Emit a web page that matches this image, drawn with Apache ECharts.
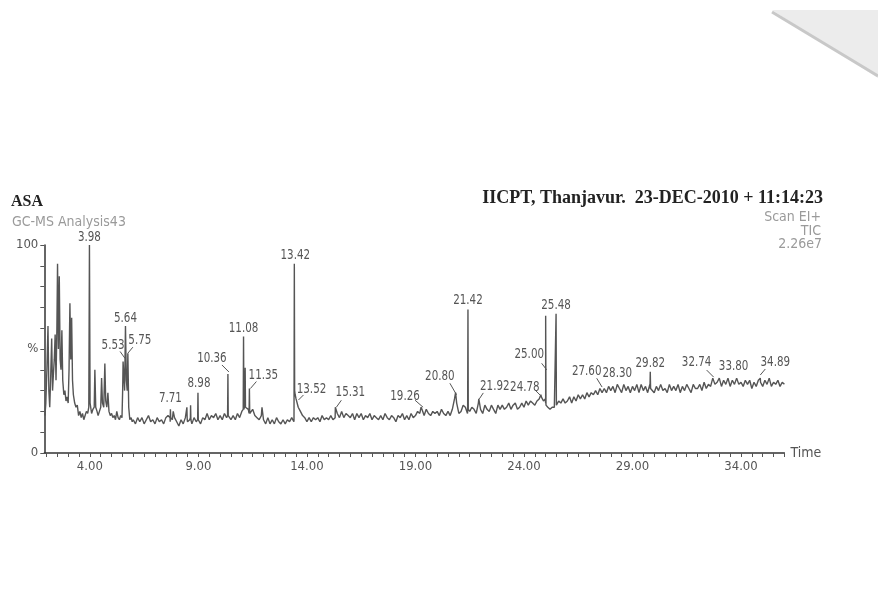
<!DOCTYPE html>
<html><head><meta charset="utf-8">
<script src="https://cdn.jsdelivr.net/npm/echarts@6/dist/echarts.min.js"></script>
<style>html,body{margin:0;padding:0;background:#fff}#c{width:878px;height:590px}</style>
</head><body><div id="c"></div>
<script>
// ---- DATA ----
// Busy early part of the TIC trace: [time (min), relative abundance %]
const earlyTrace = [
 [1.93,18],[1.97,24],[2.02,40],[2.07,61],[2.11,30],[2.15,22],[2.19,35],[2.24,55],[2.28,30],[2.32,38],
 [2.36,45],[2.40,57],[2.44,35],[2.48,60],[2.51,91],[2.55,50],[2.59,85],[2.63,45],[2.67,40],[2.71,59],
 [2.75,35],[2.80,28],[2.85,30],[2.90,25],[2.95,27],[3.00,24],[3.04,40],[3.08,72],[3.12,45],[3.16,65],
 [3.20,35],[3.24,28],[3.30,24],[3.36,22],[3.42,23],[3.48,18],[3.54,20],[3.60,17],[3.66,19],[3.72,16],
 [3.78,18],[3.84,20],[3.90,19],[3.95,22],[3.98,100],[4.01,24],[4.08,19],[4.14,21],[4.20,22],[4.23,40],
 [4.27,22],[4.33,20],[4.38,18],[4.44,20],[4.50,22],[4.54,36],[4.58,24],[4.64,22],[4.69,43],[4.73,25],
 [4.78,22],[4.83,29],[4.88,20],[4.94,18],[5.00,19],[5.06,17],[5.12,18],[5.18,16],[5.24,20],[5.30,17],
 [5.36,16],[5.42,18],[5.48,17],[5.51,30],[5.53,44],[5.56,38],[5.60,30],[5.64,61],[5.68,35],[5.72,30],
 [5.75,48],[5.79,22],[5.84,16],[5.90,17],[5.95,15]
];
// Baseline trace read every 0.1 min from 6.0 to 36.0 min (%)
const baselineStart = 6.0;
const baselineStep = 0.1;
const baseline = [
 16,14,17,15,17,14,16,18,15,16,
 14,17,15,16,14,17,18,15,16,17,
 15,13,16,14,17,15,16,14,17,15,
 16,14,17,16,19,16,18,17,19,16,
 18,16,19,17,18,16,18,16,19,17,
 20,21,22,21,19,21,18,17,16,18,
 16,14,17,14,16,14,17,15,14,16,
 14,16,15,17,15,26,22,20,18,17,
 15,17,15,17,16,17,15,18,16,17,
 16,18,16,17,19,17,20,17,19,18,
 17,19,16,19,17,19,16,18,17,19,
 16,18,17,16,18,16,19,17,16,18,
 17,15,18,17,19,16,18,16,19,17,
 18,20,19,21,18,21,19,18,20,19,
 20,18,21,19,18,20,18,21,26,24,
 19,20,23,22,19,20,22,21,19,24,
 21,19,23,21,20,23,21,19,23,21,
 23,21,22,24,21,23,24,21,22,24,
 22,25,23,25,24,23,25,26,27,25,
 24,22,21,22,22,23,25,24,26,24,
 25,27,24,27,25,28,26,28,26,29,
 27,29,28,30,28,31,29,31,29,32,
 30,32,29,33,31,29,33,30,32,29,
 32,30,33,29,33,30,32,29,33,31,
 29,32,30,33,30,31,29,33,30,32,
 30,33,29,32,30,33,31,29,33,31,
 31,33,30,34,31,33,32,36,33,34,
 36,32,35,33,36,32,35,33,36,33,
 34,32,35,33,35,31,34,32,35,34,
 32,35,33,36,32,34,33,35,32,34,
 33
];
// Narrow peaks and spikes on top of the baseline: [time, %]
const peakTrace = [
 [7.695,17],[7.71,21],[7.725,17],[7.84,20],
 [8.46,17],[8.47,22],[8.485,16],[8.63,17],[8.64,23],[8.655,16],
 [8.965,16],[8.98,29],[8.995,16],
 [10.345,18],[10.36,38],[10.375,18],
 [11.065,21],[11.08,56],[11.095,24],[11.14,24],[11.155,41],[11.17,22],
 [11.335,19],[11.35,31],[11.365,19],[11.93,22],
 [13.405,16],[13.42,91],[13.435,30],[13.46,28],
 [15.31,22],[19.26,22],[20.85,29],
 [21.405,20],[21.42,69],[21.435,21],[21.92,26],[24.78,28],
 [24.985,26],[25.00,66],[25.015,23],
 [25.465,22],[25.48,67],[25.495,23],
 [29.805,31],[29.82,39],[29.835,31],
 [32.74,36],[33.82,36],[34.89,36]
];
// Peak annotations
const peakNames  = ['3.98','5.53','5.64','5.75','7.71','8.98','10.36','11.08','11.35','13.42','13.52','15.31','19.26','20.80','21.42','21.92','24.78','25.00','25.48','27.60','28.30','29.82','32.74','33.80','34.89'];
const peakTimes  = [3.98,5.53,5.64,5.75,7.71,8.98,10.36,11.08,11.35,13.42,13.52,15.31,19.26,20.80,21.42,21.92,24.78,25.00,25.48,27.60,28.30,29.82,32.74,33.80,34.89];
const peakLevels = [100,44,61,48,21,29,38,56,31,91,25.5,22,22,28,69.5,26,27,40,67,31.7,31.7,39,36.5,35,37.5];
// Axis tick labels
const xTickLabels = [4,9,14,19,24,29,34];
const yTickLabels = {0:'0',50:'%',100:'100'};

// ---- STYLE: label placement (text centre dx,dy; leader x1,y1,x2,y2) relative to anchor ----
const labelPlacement = {
 '3.98':[0,-8], '5.53':[-10,-16.5,-3,-10,2,-3], '5.64':[0,-8], '5.75':[12,-13,5,-6,0,0],
 '7.71':[0,-11], '8.98':[1,-9], '10.36':[-16,-16,-6,-9,1,-2], '11.08':[0,-8],
 '11.35':[14,-13.5,7,-7,1,0], '13.42':[1,-8], '13.52':[15,-11,7,-5,2,0],
 '15.31':[15,-15,6,-7,1,0], '19.26':[-16,-10.5,-6,-7,2,0], '20.80':[-14.6,-18,-4.6,-11.5,2,0],
 '21.42':[0,-8], '21.92':[16,-12.3,4.5,-6,0.5,0], '24.78':[-16,-9.5,-6,-7,1,0],
 '25.00':[-16.4,-15,-4,-6.5,1,0], '25.48':[0,-8], '27.60':[-15.4,-15.4,-5.4,-8.8,0,0],
 '28.30':[0,-14], '29.82':[0,-9], '32.74':[-17,-14.4,-7,-7,0,0], '33.80':[-3,-13.5],
 '34.89':[15,-12.3,5,-6,0,0]
};

const trace = earlyTrace
  .concat(baseline.map((v,i)=>[+(baselineStart+i*baselineStep).toFixed(3), v]))
  .concat(peakTrace)
  .sort((a,b)=>a[0]-b[0]);

const xTicks = [];
for (let t = 2; t <= 36; t += 0.5) xTicks.push(t);
const labelFont = '"Liberation Sans Narrow","DejaVu Sans Condensed","Arial Narrow",sans-serif';
const serifFont = '"Liberation Serif","Times New Roman",serif';

const chart = echarts.init(document.getElementById('c'), null, {renderer:'canvas'});
chart.setOption({
  backgroundColor:'#ffffff',
  animation:false,
  grid:{left:44.3, right:93.6, top:245, bottom:137, containLabel:false},
  xAxis:{
    type:'value', min:1.9, max:36.0,
    name:'Time', nameLocation:'end', nameGap:6,
    nameTextStyle:{color:'#555', fontSize:14, fontFamily:labelFont, verticalAlign:'middle'},
    axisLine:{show:true, onZero:false, lineStyle:{color:'#333', width:1.5}},
    axisTick:{show:true, customValues:xTicks, length:4, lineStyle:{color:'#555'}},
    axisLabel:{customValues:xTickLabels, formatter:v=>v.toFixed(2), color:'#555', fontSize:13, fontFamily:labelFont, margin:7},
    splitLine:{show:false}
  },
  yAxis:{
    type:'value', min:0, max:100, interval:10,
    axisLine:{show:true, lineStyle:{color:'#333', width:1.5}},
    axisTick:{show:true, length:4, lineStyle:{color:'#555'}},
    axisLabel:{formatter:v=>yTickLabels[v]||'', color:'#555', fontSize:13, fontFamily:labelFont, margin:6},
    splitLine:{show:false}
  },
  graphic:[
    {type:'polygon', shape:{points:[[772,10],[878,10],[878,78]]}, style:{fill:'#ececec'}, silent:true, z:-10},
    {type:'line', shape:{x1:772,y1:12,x2:878,y2:76}, style:{stroke:'#c8c8c8', lineWidth:3}, silent:true, z:-9},
    {type:'text', left:11, top:194, style:{text:'ASA', font:'bold 16px '+serifFont, fill:'#222'}},
    {type:'text', left:12, top:215, style:{text:'GC-MS Analysis43', font:'14px '+labelFont, fill:'#9a9a9a'}},
    {type:'text', right:55, top:189, style:{text:'IICPT, Thanjavur.  23-DEC-2010 + 11:14:23', font:'bold 18px '+serifFont, fill:'#222'}},
    {type:'text', right:57, top:210, style:{text:'Scan EI+', font:'14px '+labelFont, fill:'#9a9a9a'}},
    {type:'text', right:57, top:224, style:{text:'TIC', font:'14px '+labelFont, fill:'#9a9a9a'}},
    {type:'text', right:56, top:237, style:{text:'2.26e7', font:'14px '+labelFont, fill:'#9a9a9a'}}
  ],
  series:[
    {
      type:'line', data:trace, showSymbol:false, symbol:'none',
      lineStyle:{color:'#555', width:1.4}, silent:true, clip:true
    },
    {
      type:'custom', silent:true, clip:false, z:5,
      data:peakTimes.map((t,i)=>[t, peakLevels[i]]),
      renderItem:function(params, api){
        const p = api.coord([api.value(0), api.value(1)]);
        const name = peakNames[params.dataIndex];
        const o = labelPlacement[name];
        const children = [{
          type:'text', x:p[0]+o[0], y:p[1]+o[1], scaleX:0.82,
          style:{text:name, x:0, y:0, align:'center', verticalAlign:'middle',
                 font:'14px '+labelFont, fill:'#555'}
        }];
        if (o.length > 2) {
          children.push({type:'line', shape:{x1:p[0]+o[2], y1:p[1]+o[3], x2:p[0]+o[4], y2:p[1]+o[5]},
                         style:{stroke:'#555', lineWidth:1}});
        }
        return {type:'group', children:children};
      }
    }
  ]
});
</script></body></html>
